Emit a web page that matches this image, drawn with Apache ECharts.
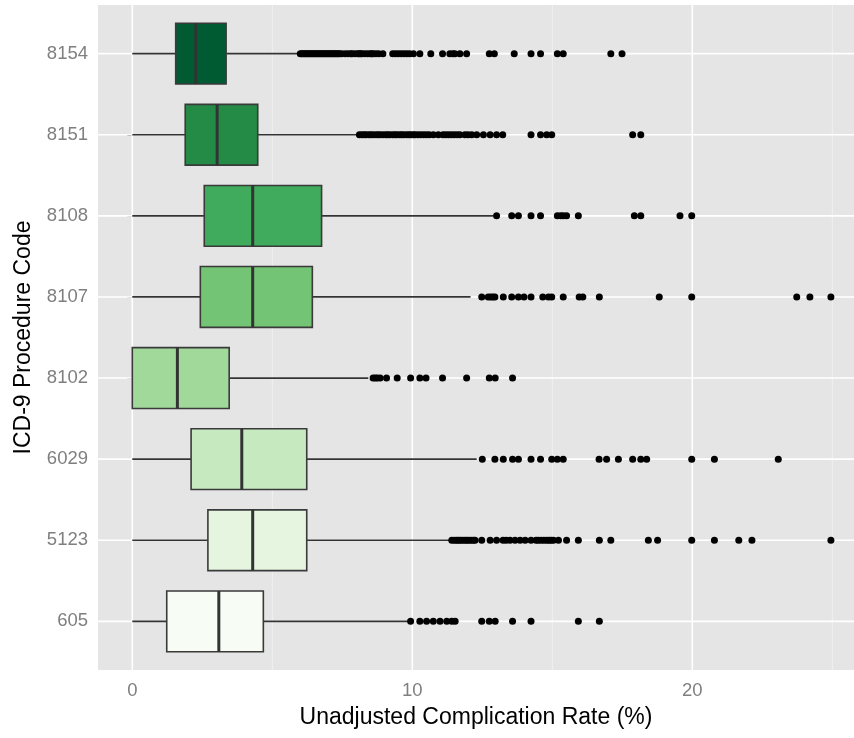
<!DOCTYPE html>
<html>
<head>
<meta charset="utf-8">
<script src="https://cdn.jsdelivr.net/npm/echarts@6/dist/echarts.min.js"></script>
<style>
html,body{margin:0;padding:0;background:#fff;}
#chart{width:854px;height:738px;}
</style>
</head>
<body>
<div id="chart"></div>
<script>
// Categories, bottom to top
var categories = ['605', '5123', '6029', '8102', '8107', '8108', '8151', '8154'];

// Box statistics per category: [lower whisker, Q1, median, Q3, upper whisker]
var stats605  = [0, 1.23, 3.09, 4.68, 9.90];
var stats5123 = [0, 2.70, 4.30, 6.23, 11.38];
var stats6029 = [0, 2.10, 3.91, 6.23, 12.30];
var stats8102 = [0, 0.00, 1.61, 3.46, 8.43];
var stats8107 = [0, 2.43, 4.30, 6.43, 12.08];
var stats8108 = [0, 2.57, 4.30, 6.76, 12.90];
var stats8151 = [0, 1.89, 3.03, 4.48, 8.08];
var stats8154 = [0, 1.55, 2.27, 3.35, 5.95];

// Outliers per category
var out605  = [9.94, 10.27, 10.51, 10.75, 10.99, 11.23, 11.41, 11.53, 12.48, 12.75, 12.96, 13.58, 14.24, 15.93, 16.68];
var out5123 = [11.41, 11.50, 11.58, 11.65, 11.72, 11.80, 11.88, 11.95, 12.02, 12.10, 12.18, 12.24, 12.48, 12.78, 13.01, 13.24, 13.35, 13.49, 13.67, 13.85, 14.03, 14.24, 14.42, 14.50, 14.60, 14.70, 14.80, 14.88, 14.96, 15.04, 15.22, 15.51, 15.93, 16.68, 17.09, 18.43, 18.76, 19.98, 20.79, 21.66, 22.13, 24.95];
var out6029 = [12.50, 12.95, 13.25, 13.58, 13.79, 14.24, 14.58, 14.98, 15.18, 15.39, 16.67, 16.94, 17.36, 17.87, 18.16, 18.37, 19.98, 20.79, 23.07];
var out8102 = [8.60, 8.68, 8.75, 8.85, 9.08, 9.46, 9.94, 10.27, 10.49, 11.08, 11.94, 12.75, 12.96, 13.58];
var out8107 = [12.48, 12.71, 12.80, 12.88, 12.95, 13.25, 13.55, 13.79, 13.99, 14.24, 14.66, 14.86, 14.98, 15.39, 15.96, 16.09, 16.68, 18.82, 19.98, 23.73, 24.20, 24.95];
var out8108 = [13.01, 13.55, 13.79, 14.24, 14.58, 15.18, 15.30, 15.39, 15.51, 15.93, 17.93, 18.16, 19.56, 19.98];
var out8151 = [8.11, 8.20, 8.28, 8.35, 8.45, 8.52, 8.60, 8.70, 8.78, 8.85, 8.95, 9.05, 9.12, 9.20, 9.30, 9.38, 9.45, 9.55, 9.62, 9.70, 9.80, 9.88, 9.95, 10.04, 10.10, 10.20, 10.30, 10.40, 10.50, 10.60, 10.75, 10.93, 11.10, 11.20, 11.30, 11.40, 11.50, 11.60, 11.70, 11.88, 11.99, 12.12, 12.30, 12.54, 12.78, 13.01, 13.23, 14.24, 14.58, 14.80, 14.98, 17.87, 18.16];
var out8154 = [6.00, 6.05, 6.10, 6.15, 6.20, 6.25, 6.30, 6.35, 6.40, 6.45, 6.50, 6.55, 6.60, 6.65, 6.70, 6.75, 6.80, 6.85, 6.90, 6.95, 7.00, 7.05, 7.10, 7.15, 7.20, 7.25, 7.30, 7.35, 7.40, 7.48, 7.60, 7.70, 7.80, 7.85, 7.95, 8.05, 8.10, 8.15, 8.20, 8.30, 8.40, 8.50, 8.55, 8.60, 8.70, 8.80, 8.95, 9.30, 9.40, 9.50, 9.60, 9.70, 9.80, 9.90, 10.04, 10.27, 10.66, 11.08, 11.34, 11.45, 11.52, 11.70, 11.94, 12.75, 12.93, 13.64, 14.24, 14.58, 15.18, 15.39, 17.09, 17.49];

// Axis ticks
var xMajorTicks = [0, 10, 20];
var xMinorTicks = [5, 15, 25];

// Fill palette (style), bottom to top
var fills = ['#f7fcf5', '#e5f5e0', '#c7e9c0', '#a1d99b', '#74c476', '#41ab5d', '#238b45', '#005a32'];

var allStats = [stats605, stats5123, stats6029, stats8102, stats8107, stats8108, stats8151, stats8154];
var allOut = [out605, out5123, out6029, out8102, out8107, out8108, out8151, out8154];

var boxData = allStats.map(function (s, i) { return [i].concat(s); });
var outData = [];
allOut.forEach(function (arr, i) { arr.forEach(function (v) { outData.push([v, i]); }); });

var catIdx = categories.map(function (c, i) { return i; });

var X_MIN = -1.225, X_MAX = 25.775, Y_MIN = -0.6, Y_MAX = 7.6;

var chart = echarts.init(document.getElementById('chart'), null, {renderer: 'canvas'});

var option = {
  animation: false,
  backgroundColor: '#ffffff',
  grid: {
    left: 98, right: 0, top: 5, bottom: 68,
    show: true, backgroundColor: '#e5e5e5', borderWidth: 0
  },
  xAxis: {
    type: 'value', min: X_MIN, max: X_MAX,
    name: 'Unadjusted Complication Rate (%)',
    nameLocation: 'middle', nameGap: 36,
    nameTextStyle: {fontFamily: 'Liberation Sans', fontSize: 23, color: '#000'},
    axisLine: {show: false},
    axisTick: {show: true, length: 5, customValues: xMajorTicks, lineStyle: {color: '#7f7f7f', width: 1}},
    axisLabel: {customValues: xMajorTicks, margin: 11, fontFamily: 'Liberation Sans', fontSize: 18.5, color: '#7f7f7f'},
    splitLine: {show: false}
  },
  yAxis: {
    type: 'value', min: Y_MIN, max: Y_MAX,
    name: 'ICD-9 Procedure Code',
    nameLocation: 'middle', nameGap: 63, nameRotate: 90,
    nameTextStyle: {fontFamily: 'Liberation Sans', fontSize: 23, color: '#000'},
    axisLine: {show: false},
    axisTick: {show: true, length: 5, customValues: catIdx, lineStyle: {color: '#7f7f7f', width: 1}},
    axisLabel: {
      customValues: catIdx, margin: 10, fontFamily: 'Liberation Sans', fontSize: 18.5, color: '#7f7f7f',
      formatter: function (v) { return categories[Math.round(v)]; }
    },
    splitLine: {show: false}
  },
  series: [
    {
      // vertical grid lines
      type: 'custom', silent: true, z: 1,
      data: xMinorTicks.map(function (v) { return [v, 0]; }).concat(xMajorTicks.map(function (v) { return [v, 1]; })),
      renderItem: function (params, api) {
        var v = api.value(0), major = api.value(1) === 1;
        var p1 = api.coord([v, Y_MIN]), p2 = api.coord([v, Y_MAX]);
        return {type: 'line', shape: {x1: p1[0], y1: p1[1], x2: p2[0], y2: p2[1]},
          style: {stroke: major ? '#ffffff' : '#f2f2f2', lineWidth: major ? 1.6 : 1}};
      }
    },
    {
      // horizontal grid lines at categories
      type: 'custom', silent: true, z: 1,
      data: catIdx.map(function (i) { return [i]; }),
      renderItem: function (params, api) {
        var c = api.value(0);
        var p1 = api.coord([X_MIN, c]), p2 = api.coord([X_MAX, c]);
        return {type: 'line', shape: {x1: p1[0], y1: p1[1], x2: p2[0], y2: p2[1]},
          style: {stroke: '#ffffff', lineWidth: 1.6}};
      }
    },
    {
      type: 'custom', z: 2,
      data: boxData,
      encode: {x: [1, 2, 3, 4, 5], y: 0},
      renderItem: function (params, api) {
        var c = api.value(0);
        var lo = api.coord([api.value(1), c]);
        var q1 = api.coord([api.value(2), c]);
        var md = api.coord([api.value(3), c]);
        var q3 = api.coord([api.value(4), c]);
        var hi = api.coord([api.value(5), c]);
        var yTop = api.coord([0, c + 0.375])[1];
        var yBot = api.coord([0, c - 0.375])[1];
        var stroke = '#333333';
        return {
          type: 'group',
          children: [
            {type: 'line', shape: {x1: lo[0], y1: lo[1], x2: q1[0], y2: q1[1]}, style: {stroke: stroke, lineWidth: 1.7}},
            {type: 'line', shape: {x1: q3[0], y1: q3[1], x2: hi[0], y2: hi[1]}, style: {stroke: stroke, lineWidth: 1.7}},
            {type: 'rect', shape: {x: q1[0], y: yTop, width: q3[0] - q1[0], height: yBot - yTop},
              style: {fill: fills[c], stroke: '#3a3a3a', lineWidth: 1.6}},
            {type: 'line', shape: {x1: md[0], y1: yTop, x2: md[0], y2: yBot}, style: {stroke: stroke, lineWidth: 3}}
          ]
        };
      }
    },
    {
      type: 'scatter', z: 3,
      data: outData,
      symbol: 'circle', symbolSize: 7,
      itemStyle: {color: '#000000', opacity: 1}
    }
  ]
};
chart.setOption(option);
</script>
</body>
</html>
